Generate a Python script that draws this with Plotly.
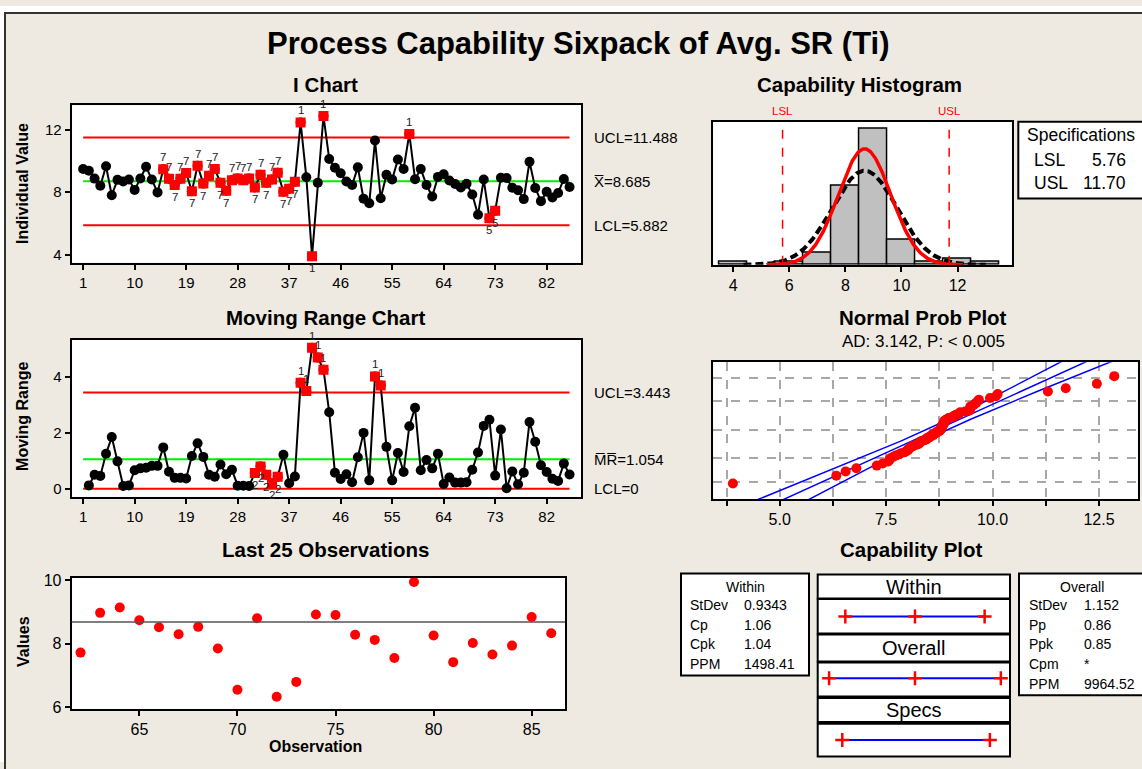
import numpy as np
import plotly.graph_objects as go
from statistics import NormalDist

W, H = 1142, 769

# ---------------- data ----------------
obs_values = [
    9.48, 9.36, 8.86, 8.40, 9.65, 7.80, 8.78, 8.68, 8.80, 8.14,
    8.87, 9.62, 8.80, 7.98, 9.46, 8.85, 8.46, 8.85, 9.22, 8.05,
    9.68, 8.54, 9.04, 9.47, 8.60, 8.08, 8.76, 8.87, 8.76, 8.86,
    8.30, 9.10, 8.60, 8.81, 9.24, 8.02, 8.22, 8.66, 12.45, 8.95,
    3.90, 8.60, 12.86, 10.12, 9.55, 9.20, 8.68, 8.45, 9.58, 7.58,
    7.28, 11.30, 7.60, 9.10, 8.80, 10.08, 9.48, 11.72, 8.82, 9.48,
    8.45, 7.72, 8.97, 9.14, 8.74, 8.52, 8.30, 8.53, 7.85, 6.55,
    8.80, 6.33, 6.80, 8.92, 8.90, 8.28, 8.12, 7.55, 9.94, 8.26,
    7.42, 8.02, 7.66, 7.94, 8.84, 8.33,
]
obs_index = list(range(1, len(obs_values) + 1))

# observations failing a control-chart test, with the test number
i_flag_obs = list(range(15, 39)) + [39, 41, 43, 58, 72, 73]
i_flag_test = ["7"] * 24 + ["1", "1", "1", "1", "5", "5"]
mr_flag_obs = [31, 32, 33, 34, 35, 39, 40, 41, 42, 43, 52, 53]
mr_flag_test = ["2"] * 5 + ["1"] * 7

x_tick_obs = [1, 10, 19, 28, 37, 46, 55, 64, 73, 82]

# control limits and capability statistics
x_bar, i_ucl, i_lcl = 8.685, 11.488, 5.882
mr_bar, mr_ucl, mr_lcl = 1.054, 3.443, 0.0
lsl, usl = 5.76, 11.70
sd_within, sd_overall = 0.9343, 1.152
ad_text = "AD: 3.142, P: < 0.005"

within_labels = ["StDev", "Cp", "Cpk", "PPM"]
within_values = ["0.9343", "1.06", "1.04", "1498.41"]
overall_labels = ["StDev", "Pp", "Ppk", "Cpm", "PPM"]
overall_values = ["1.152", "0.86", "0.85", "*", "9964.52"]

# ---------------- helpers ----------------
FONT = "Liberation Sans"
BG = "#EEEAE1"
RED = "#FF0000"
GREEN = "#00EE00"
BLUE = "#0000FF"


def px_x(p):
    return p / W


def px_y(p):
    return 1 - p / H


def dom_x(a, b):
    return [px_x(a), px_x(b)]


def dom_y(top, bottom):
    return [px_y(bottom), px_y(top)]


annotations = []
shapes = []


def text(s, x, y, size, bold=False, color="black", xanchor="center",
         yanchor="middle", xref="paper", yref="paper", textangle=0, yshift=0):
    annotations.append(dict(
        text=f"<b>{s}</b>" if bold else s, x=x, y=y, xref=xref, yref=yref,
        xanchor=xanchor, yanchor=yanchor, showarrow=False, textangle=textangle,
        yshift=yshift, font=dict(family=FONT, size=size, color=color)))


def flag_labels(xs, ys, tests, above, xref, yref):
    # test-number tags sitting just above or below each flagged point
    for x, y, t, up in zip(xs, ys, tests, above):
        text(t, x, y, 11.5, color="#222222", xref=xref, yref=yref,
             yanchor="bottom" if up else "top", yshift=4 if up else -4)


def box(x0, y0, x1, y1, fill="white", width=2):
    shapes.append(dict(type="rect", xref="paper", yref="paper",
                       x0=px_x(x0), x1=px_x(x1), y0=px_y(y1), y1=px_y(y0),
                       fillcolor=fill, line=dict(color="black", width=width),
                       layer="below"))


def frame_axis(**kw):
    base = dict(showline=True, mirror=True, linecolor="black", linewidth=2,
                showgrid=False, zeroline=False, ticks="outside", ticklen=5,
                tickwidth=1.5, tickcolor="black",
                tickfont=dict(family=FONT, size=15, color="black"))
    base.update(kw)
    return base


fig = go.Figure()

# ---------------- I chart ----------------
for val, col in [(i_ucl, RED), (i_lcl, RED), (x_bar, GREEN)]:
    fig.add_trace(go.Scatter(x=[1, len(obs_values)], y=[val, val], mode="lines",
                             line=dict(color=col, width=2), hoverinfo="skip",
                             xaxis="x", yaxis="y"))
fig.add_trace(go.Scatter(x=obs_index, y=obs_values, mode="lines+markers",
                         line=dict(color="black", width=2),
                         marker=dict(color="black", size=10),
                         xaxis="x", yaxis="y"))
i_flag_y = [obs_values[i - 1] for i in i_flag_obs]
fig.add_trace(go.Scatter(x=i_flag_obs, y=i_flag_y, mode="markers",
                         marker=dict(symbol="square", color=RED, size=10),
                         xaxis="x", yaxis="y"))
flag_labels(i_flag_obs, i_flag_y, i_flag_test, [v >= x_bar for v in i_flag_y], "x", "y")

# ---------------- Moving range chart ----------------
mr_values = [abs(b - a) for a, b in zip(obs_values[:-1], obs_values[1:])]
mr_index = obs_index[1:]
for val, col in [(mr_ucl, RED), (mr_lcl, RED), (mr_bar, GREEN)]:
    fig.add_trace(go.Scatter(x=[1, len(obs_values)], y=[val, val], mode="lines",
                             line=dict(color=col, width=2), hoverinfo="skip",
                             xaxis="x2", yaxis="y2"))
fig.add_trace(go.Scatter(x=mr_index, y=mr_values, mode="lines+markers",
                         line=dict(color="black", width=2),
                         marker=dict(color="black", size=10),
                         xaxis="x2", yaxis="y2"))
mr_flag_y = [mr_values[i - 2] for i in mr_flag_obs]
fig.add_trace(go.Scatter(x=mr_flag_obs, y=mr_flag_y, mode="markers",
                         marker=dict(symbol="square", color=RED, size=10),
                         xaxis="x2", yaxis="y2"))
flag_labels(mr_flag_obs, mr_flag_y, mr_flag_test, [t != "2" for t in mr_flag_test], "x2", "y2")

# ---------------- Last 25 observations ----------------
last_x = obs_index[-25:]
last_y = obs_values[-25:]
shapes.append(dict(type="line", xref="x3 domain", yref="y3", x0=0, x1=1,
                   y0=x_bar, y1=x_bar, line=dict(color="#555555", width=1.5)))
fig.add_trace(go.Scatter(x=last_x, y=last_y, mode="markers",
                         marker=dict(color=RED, size=10),
                         xaxis="x3", yaxis="y3"))

# ---------------- Capability histogram ----------------
n = len(obs_values)
fig.add_trace(go.Histogram(x=obs_values, autobinx=False,
                           xbins=dict(start=3.5, end=13.5, size=1),
                           marker=dict(color="#C0C0C0", line=dict(color="black", width=1.5)),
                           xaxis="x4", yaxis="y4"))
for sd, col, dash, wid in [(sd_overall, "black", "8px,4px", 4), (sd_within, RED, "solid", 3.5)]:
    cx = np.linspace(x_bar - 3.75 * sd, x_bar + 3.75 * sd, 300)
    dist = NormalDist(x_bar, sd)
    cy = [n * 1.0 * dist.pdf(v) for v in cx]
    fig.add_trace(go.Scatter(x=cx, y=cy, mode="lines",
                             line=dict(color=col, width=wid, dash=dash),
                             xaxis="x4", yaxis="y4"))
for spec in (lsl, usl):
    shapes.append(dict(type="line", xref="x4", yref="y4 domain", x0=spec, x1=spec,
                       y0=0, y1=1, line=dict(color=RED, width=1.5, dash="dash")))
text("LSL", lsl, px_y(107), 11.5, color=RED, xref="x4")
text("USL", usl, px_y(107), 11.5, color=RED, xref="x4")

# ---------------- Normal probability plot ----------------
sorted_vals = sorted(obs_values)
std_norm = NormalDist()
z_pts = [std_norm.inv_cdf((i - 0.3) / (n + 0.4)) for i in range(1, n + 1)]
zz = np.linspace(-3.4, 3.4, 200)
fit = x_bar + sd_overall * zz
half = 1.96 * sd_overall * np.sqrt(1 / n + zz ** 2 / (2 * (n - 1)))
for xs in (fit - half, fit, fit + half):
    fig.add_trace(go.Scatter(x=xs, y=zz, mode="lines", line=dict(color=BLUE, width=1.5),
                             xaxis="x5", yaxis="y5"))
fig.add_trace(go.Scatter(x=sorted_vals, y=z_pts, mode="markers",
                         marker=dict(color=RED, size=10), xaxis="x5", yaxis="y5"))
prob_grid_z = [std_norm.inv_cdf(p) for p in (0.01, 0.10, 0.50, 0.90, 0.99)]
prob_grid_x = [3.75, 5.0, 6.25, 7.5, 8.75, 10.0, 11.25, 12.5]
prob_tick_text = ["", "5.0", "", "7.5", "", "10.0", "", "12.5"]

# ---------------- Capability plot ----------------
cap_rows = [
    (2, x_bar - 3 * sd_within, x_bar, x_bar + 3 * sd_within),
    (1, x_bar - 3 * sd_overall, x_bar, x_bar + 3 * sd_overall),
]
for row, lo, mid, hi in cap_rows:
    fig.add_trace(go.Scatter(x=[lo, mid, hi], y=[row] * 3, mode="lines+markers",
                             line=dict(color=BLUE, width=2),
                             marker=dict(symbol="cross-thin", size=10, color=RED,
                                         line=dict(color=RED, width=2.5)),
                             xaxis="x6", yaxis="y6"))
fig.add_trace(go.Scatter(x=[lsl, usl], y=[0, 0], mode="lines+markers",
                         line=dict(color=BLUE, width=2),
                         marker=dict(symbol="cross-thin", size=10, color=RED,
                                     line=dict(color=RED, width=2.5)),
                         xaxis="x6", yaxis="y6"))

CX0, CX1 = 817.7, 1010
for (t0, t1, label), (b0, b1) in zip(
        [(578.3, 602.7, "Within"), (639.3, 666.7, "Overall"), (704, 728.3, "Specs")],
        [(603.3, 638.3), (667.7, 702.3), (730, 763.3)]):
    box(CX0, t0, CX1, t1)
    box(CX0, b0, CX1, b1)
    text(label, px_x((CX0 + CX1) / 2), px_y((t0 + t1) / 2), 20)

# statistics tables
box(681, 577.3, 809, 681)
text("Within", px_x(745), px_y(591), 14)
for k, (lab, val) in enumerate(zip(within_labels, within_values)):
    yy = px_y(609.3 + 20 * k)
    text(lab, px_x(688), yy, 14, xanchor="left")
    text(val, px_x(742), yy, 14, xanchor="left")

box(1019, 577.3, 1150, 701)
text("Overall", px_x(1082), px_y(591), 14)
for k, (lab, val) in enumerate(zip(overall_labels, overall_values)):
    yy = px_y(609.3 + 20 * k)
    text(lab, px_x(1027), yy, 14, xanchor="left")
    text(val, px_x(1081.7), yy, 14, xanchor="left")

# specification limits box
box(1018.3, 117.7, 1150, 195.7)
text("Specifications", px_x(1025), px_y(131.7), 17.5, xanchor="left")
text("LSL", px_x(1031.7), px_y(156.7), 17.5, xanchor="left")
text(f"{lsl:.2f}", px_x(1128.3), px_y(156.7), 17.5, xanchor="right")
text("USL", px_x(1031.7), px_y(180), 17.5, xanchor="left")
text(f"{usl:.2f}", px_x(1128.3), px_y(180), 17.5, xanchor="right")

# ---------------- titles and labels ----------------
text("Process Capability Sixpack of Avg. SR (Ti)", px_x(578), px_y(38), 31, bold=True)
text("I Chart", px_x(325), px_y(80), 20.5, bold=True)
text("Moving Range Chart", px_x(325), px_y(317), 20.5, bold=True)
text("Last 25 Observations", px_x(325), px_y(553), 20.5, bold=True)
text("Capability Histogram", px_x(859), px_y(80), 20.5, bold=True)
text("Normal Prob Plot", px_x(923), px_y(317), 20.5, bold=True)
text("Capability Plot", px_x(911), px_y(553), 20.5, bold=True)
text(ad_text, px_x(923), px_y(341), 17)

text("Individual Value", px_x(23), px_y(181), 16, bold=True, textangle=-90)
text("Moving Range", px_x(23), px_y(418), 16, bold=True, textangle=-90)
text("Values", px_x(23), px_y(647), 16, bold=True, textangle=-90)
text("Observation", px_x(315), px_y(753), 16, bold=True)

# control-limit labels
text(f"UCL={i_ucl:.3f}", px_x(592), i_ucl, 15, xanchor="left", yref="y")
text(f"X\u0305={x_bar:.3f}", px_x(592), x_bar, 15, xanchor="left", yref="y")
text(f"LCL={i_lcl:.3f}", px_x(592), i_lcl, 15, xanchor="left", yref="y")
text(f"UCL={mr_ucl:.3f}", px_x(592), mr_ucl, 15, xanchor="left", yref="y2")
text(f"M\u0305R\u0305={mr_bar:.3f}", px_x(592), mr_bar, 15, xanchor="left", yref="y2")
text(f"LCL={mr_lcl:g}", px_x(592), mr_lcl, 15, xanchor="left", yref="y2")

# page frame
shapes.append(dict(type="rect", xref="paper", yref="paper", x0=0, x1=1,
                   y0=px_y(7), y1=1, fillcolor="white", line=dict(width=0)))
shapes.append(dict(type="rect", xref="paper", yref="paper", x0=0, x1=px_x(5),
                   y0=0, y1=1, fillcolor="white", line=dict(width=0)))
shapes.append(dict(type="rect", xref="paper", yref="paper", x0=px_x(5), x1=1.05,
                   y0=-0.05, y1=px_y(7), line=dict(color="#333333", width=2)))

# ---------------- layout ----------------
fig.update_layout(
    width=W, height=H, margin=dict(l=0, r=0, t=0, b=0),
    paper_bgcolor=BG, plot_bgcolor="white", showlegend=False,
    font=dict(family=FONT, color="black"), bargap=0,
    annotations=annotations, shapes=shapes,
    xaxis=frame_axis(domain=dom_x(71.7, 581), range=[-1.0, 88.0], tickvals=x_tick_obs, anchor="y"),
    yaxis=frame_axis(domain=dom_y(101, 261), range=[3.49, 13.55], tickvals=[4, 8, 12], anchor="x"),
    xaxis2=frame_axis(domain=dom_x(71.7, 581), range=[-1.0, 88.0], tickvals=x_tick_obs, anchor="y2"),
    yaxis2=frame_axis(domain=dom_y(339.3, 499.3), range=[-0.29, 5.34], tickvals=[0, 2, 4], anchor="x2"),
    xaxis3=frame_axis(domain=dom_x(71.7, 565), range=[61.55, 86.7], tickvals=[65, 70, 75, 80, 85],
                      anchor="y3", tickfont=dict(family=FONT, size=16, color="black")),
    yaxis3=frame_axis(domain=dom_y(581.7, 715), range=[5.95, 10.07], tickvals=[6, 8, 10],
                      anchor="x3", tickfont=dict(family=FONT, size=16, color="black")),
    xaxis4=frame_axis(domain=dom_x(713.3, 1011.7), range=[3.29, 13.93], tickvals=[4, 6, 8, 10, 12],
                      anchor="y4", tickfont=dict(family=FONT, size=16, color="black")),
    yaxis4=frame_axis(domain=dom_y(117.7, 263.3), range=[0, 45.3], ticks="", showticklabels=False,
                      anchor="x4"),
    xaxis5=frame_axis(domain=dom_x(713.3, 1137.7), range=[3.44, 13.41], tickvals=prob_grid_x,
                      ticktext=prob_tick_text, showgrid=True, griddash="dash", gridcolor="#A8A8A8",
                      gridwidth=1.5, anchor="y5", tickfont=dict(family=FONT, size=16, color="black")),
    yaxis5=frame_axis(domain=dom_y(362.3, 501.7), range=[-3.11, 3.03], tickvals=prob_grid_z,
                      showticklabels=False, showgrid=True, griddash="dash", gridcolor="#A8A8A8",
                      gridwidth=1.5, ticks="", anchor="x5"),
    xaxis6=dict(domain=dom_x(CX0, CX1), range=[4.77, 12.51], visible=False, anchor="y6"),
    yaxis6=dict(domain=dom_y(578.3, 763.3), range=[-0.264, 2.679], visible=False, anchor="x6"),
)
fig.update_traces(hoverinfo="skip", selector=dict(type="scatter"))

fig.write_html("out.html")
